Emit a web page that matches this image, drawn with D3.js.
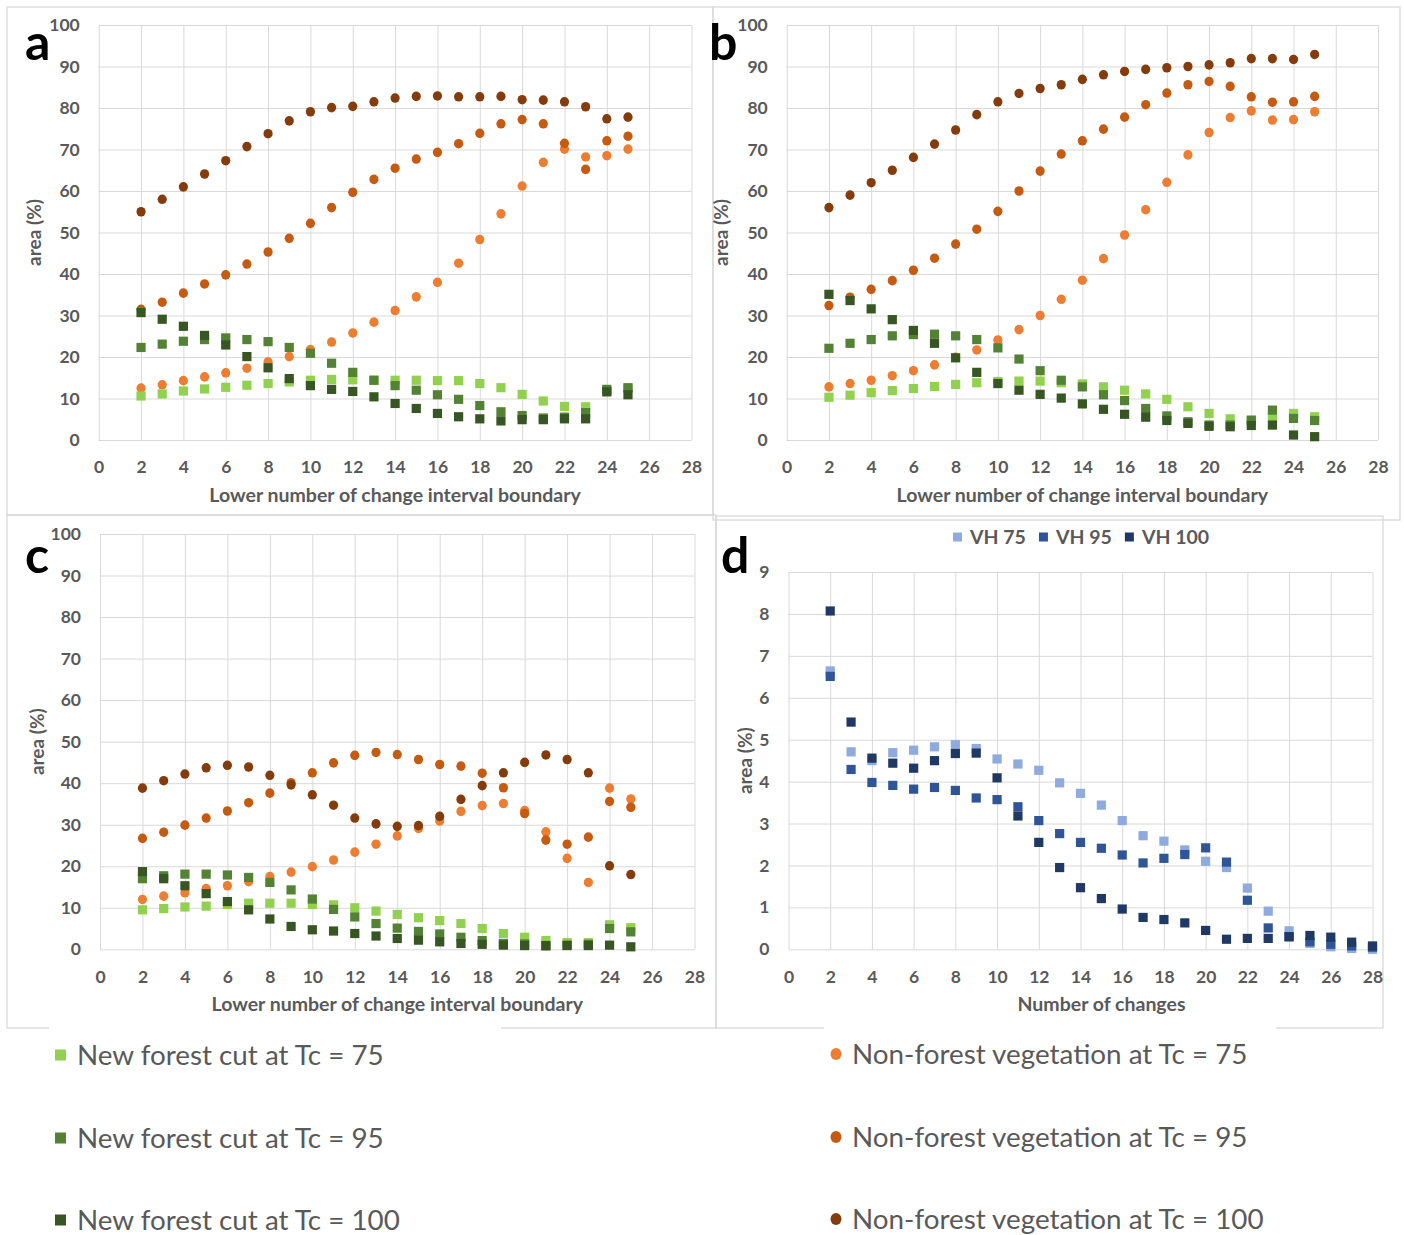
<!DOCTYPE html>
<html lang="en">
<head>
	<meta charset="utf-8">
	<title>Area of change classes by number of changes</title>
	<script src="https://cdn.jsdelivr.net/npm/d3@7"></script>
	<style>
		body { margin: 0; background: #fff; }
		svg { display: block; }
		.tick text { fill: #595959; font-family: Lato, "Open Sans", sans-serif; font-weight: 700; font-size: 17.5px; }
		.grid line { stroke: #d9d9d9; stroke-width: 1; }
	</style>
</head>
<body>
	<div id="chart"></div>
	<script>

		// x categories
		const boundaries = [2, 3, 4, 5, 6, 7, 8, 9, 10, 11, 12, 13, 14, 15, 16, 17, 18, 19, 20, 21, 22, 23, 24, 25];
		const changes = [2, 3, 4, 5, 6, 7, 8, 9, 10, 11, 12, 13, 14, 15, 16, 17, 18, 19, 20, 21, 22, 23, 24, 25, 26, 27, 28];

		// tick labels
		const xTicks = [0, 2, 4, 6, 8, 10, 12, 14, 16, 18, 20, 22, 24, 26, 28];
		const pctTicks = [0, 10, 20, 30, 40, 50, 60, 70, 80, 90, 100];
		const dTicks = [0, 1, 2, 3, 4, 5, 6, 7, 8, 9];

		// panel a
		const aCut75 = [10.6, 11.1, 11.8, 12.3, 12.7, 13.2, 13.6, 14.0, 14.4, 14.6, 14.5, 14.4, 14.4, 14.4, 14.3, 14.3, 13.6, 12.6, 11.0, 9.4, 8.1, 8.0, 11.8, 12.4];
		const aCut95 = [22.3, 23.1, 23.8, 24.2, 24.6, 24.2, 23.7, 22.3, 20.9, 18.5, 16.3, 14.4, 13.1, 12.0, 10.9, 9.8, 8.3, 6.8, 5.9, 5.3, 5.5, 6.6, 12.2, 12.6];
		const aCut100 = [30.7, 29.1, 27.4, 25.2, 22.9, 20.1, 17.4, 14.8, 13.1, 12.2, 11.7, 10.4, 8.8, 7.6, 6.4, 5.6, 5.1, 4.6, 4.9, 4.9, 5.1, 5.1, 11.6, 10.9];
		const aVeg75 = [12.5, 13.3, 14.3, 15.2, 16.2, 17.3, 18.8, 20.1, 21.8, 23.6, 25.8, 28.4, 31.2, 34.5, 38.0, 42.6, 48.3, 54.5, 61.2, 66.9, 70.1, 68.2, 68.5, 70.1];
		const aVeg95 = [31.5, 33.2, 35.4, 37.6, 39.8, 42.4, 45.3, 48.6, 52.2, 56.0, 59.7, 62.8, 65.5, 67.7, 69.3, 71.4, 73.9, 76.2, 77.2, 76.2, 71.5, 65.2, 72.1, 73.2];
		const aVeg100 = [55.0, 58.0, 61.0, 64.1, 67.3, 70.7, 73.8, 76.9, 79.1, 80.1, 80.4, 81.5, 82.4, 82.8, 82.9, 82.7, 82.7, 82.8, 82.0, 81.9, 81.5, 80.3, 77.4, 77.8];

		// panel b
		const bCut75 = [10.3, 10.8, 11.4, 11.9, 12.4, 12.9, 13.4, 13.8, 14.1, 14.2, 14.2, 13.8, 13.5, 12.8, 12.0, 11.1, 9.8, 8.0, 6.4, 5.1, 4.6, 5.5, 6.4, 5.6];
		const bCut95 = [22.1, 23.3, 24.2, 25.1, 25.4, 25.5, 25.1, 24.2, 22.2, 19.5, 16.7, 14.4, 12.8, 10.9, 9.5, 7.6, 5.8, 4.4, 3.6, 3.6, 4.8, 7.2, 5.2, 4.7];
		const bCut100 = [35.1, 33.6, 31.6, 29.0, 26.4, 23.3, 19.8, 16.3, 13.6, 12.0, 11.0, 10.1, 8.7, 7.4, 6.2, 5.5, 4.7, 4.0, 3.3, 3.2, 3.5, 3.6, 1.2, 0.8];
		const bVeg75 = [12.8, 13.6, 14.4, 15.5, 16.7, 18.1, 19.9, 21.7, 24.1, 26.6, 30.0, 33.9, 38.5, 43.7, 49.4, 55.5, 62.1, 68.7, 74.1, 77.7, 79.3, 77.1, 77.2, 79.1];
		const bVeg95 = [32.4, 34.4, 36.3, 38.4, 40.9, 43.8, 47.2, 50.8, 55.1, 60.0, 64.8, 68.9, 72.1, 74.9, 77.8, 80.8, 83.6, 85.6, 86.4, 85.2, 82.7, 81.4, 81.5, 82.8];
		const bVeg100 = [56.0, 59.0, 62.0, 65.0, 68.1, 71.3, 74.7, 78.4, 81.5, 83.5, 84.7, 85.6, 86.9, 88.0, 88.8, 89.3, 89.7, 90.0, 90.4, 90.9, 91.9, 91.9, 91.7, 92.9];

		// panel c
		const cCut75 = [9.5, 9.8, 10.2, 10.4, 10.8, 11.1, 11.1, 11.1, 10.8, 10.7, 10.0, 9.2, 8.4, 7.6, 6.9, 6.2, 5.0, 3.8, 2.9, 2.1, 1.6, 1.6, 5.9, 5.2];
		const cCut95 = [17.0, 17.7, 18.1, 18.1, 17.9, 17.3, 16.1, 14.3, 12.1, 9.6, 7.8, 6.2, 5.1, 4.3, 3.7, 2.9, 2.1, 1.4, 1.3, 0.8, 1.0, 1.2, 5.0, 4.2];
		const cCut100 = [18.7, 17.0, 15.3, 13.4, 11.5, 9.5, 7.3, 5.5, 4.7, 4.4, 3.8, 3.2, 2.6, 2.2, 1.8, 1.4, 1.2, 1.0, 0.9, 0.9, 0.9, 0.9, 1.0, 0.6];
		const cVeg75 = [12.0, 12.8, 13.6, 14.6, 15.3, 16.3, 17.5, 18.6, 19.9, 21.5, 23.4, 25.3, 27.3, 29.1, 30.9, 33.2, 34.6, 35.1, 33.4, 28.3, 21.9, 16.1, 38.8, 36.2];
		const cVeg95 = [26.7, 28.2, 29.9, 31.6, 33.3, 35.3, 37.6, 40.1, 42.5, 44.9, 46.7, 47.4, 46.9, 45.7, 44.5, 44.1, 42.4, 38.9, 32.7, 26.3, 25.3, 27.0, 35.6, 34.2];
		const cVeg100 = [38.8, 40.6, 42.2, 43.7, 44.3, 43.9, 41.9, 39.6, 37.2, 34.7, 31.6, 30.2, 29.6, 29.8, 32.0, 36.1, 39.4, 42.5, 45.0, 46.8, 45.7, 42.5, 20.1, 18.0];

		// panel d
		const vh75 = [6.64, 4.71, 4.50, 4.69, 4.75, 4.83, 4.88, 4.79, 4.54, 4.42, 4.27, 3.97, 3.72, 3.44, 3.07, 2.71, 2.58, 2.37, 2.10, 1.95, 1.46, 0.91, 0.44, 0.14, 0.06, 0.02, 0.0];
		const vh95 = [6.51, 4.29, 3.98, 3.91, 3.82, 3.86, 3.79, 3.61, 3.57, 3.40, 3.07, 2.76, 2.55, 2.41, 2.25, 2.06, 2.17, 2.26, 2.42, 2.08, 1.17, 0.51, 0.30, 0.18, 0.12, 0.08, 0.05];
		const vh100 = [8.07, 5.42, 4.56, 4.44, 4.32, 4.50, 4.67, 4.68, 4.09, 3.18, 2.55, 1.95, 1.47, 1.21, 0.96, 0.76, 0.71, 0.63, 0.45, 0.24, 0.26, 0.26, 0.30, 0.33, 0.29, 0.17, 0.08];

		const cutNames = ["New forest cut at Tc = 75", "New forest cut at Tc = 95", "New forest cut at Tc = 100"];
		const vegNames = ["Non-forest vegetation at Tc = 75", "Non-forest vegetation at Tc = 95", "Non-forest vegetation at Tc = 100"];
		const vhNames = ["VH 75", "VH 95", "VH 100"];

		const cutColors = ["#92d050", "#548235", "#375623"];
		const vegColors = ["#ed7d31", "#c55a11", "#843c0c"];
		const vhColors = ["#8faadc", "#2f5597", "#1f3864"];

		const fontFamily = 'Lato, "Open Sans", sans-serif';
		const textGrey = "#595959";
		const frameGrey = "#d9d9d9";

		const svg = d3.select("#chart").append("svg")
			.attr("width", 1404)
			.attr("height", 1235);

		svg.append("rect").attr("width", 1404).attr("height", 1235).attr("fill", "#fff");

		// panel frames
		const frames = [[7, 7, 713, 515], [713, 7, 1400, 520], [7, 515, 716, 1028], [716, 516, 1383, 1028]];
		svg.selectAll("rect.frame").data(frames).join("rect")
			.attr("class", "frame")
			.attr("x", d => d[0]).attr("y", d => d[1])
			.attr("width", d => d[2] - d[0]).attr("height", d => d[3] - d[1])
			.attr("fill", "none").attr("stroke", frameGrey).attr("stroke-width", 1.3);

		// draw one scatter panel
		function panel(opt) {
			const x = d3.scaleLinear().domain([0, 28]).range([opt.left, opt.right]);
			const y = d3.scaleLinear().domain(opt.yDomain).range([opt.bottom, opt.top]);
			const w = opt.right - opt.left, h = opt.bottom - opt.top;
			const g = svg.append("g");

			// gridlines + tick labels
			g.append("g")
				.attr("class", "grid")
				.attr("transform", "translate(" + opt.left + ",0)")
				.call(d3.axisLeft(y).tickValues(opt.yTicks).tickSize(-w).tickPadding(19).tickFormat(d3.format("d")))
				.call(s => s.select(".domain").remove());
			g.append("g")
				.attr("class", "grid")
				.attr("transform", "translate(0," + opt.bottom + ")")
				.call(d3.axisBottom(x).tickValues(xTicks).tickSize(-h).tickPadding(21).tickFormat(d3.format("d")))
				.call(s => s.select(".domain").remove());

			// series
			opt.series.forEach(s => {
				const pts = s.values.map((v, i) => ({x: s.xs[i], y: v}));
				if (s.shape === "circle") {
					g.append("g").selectAll("ellipse").data(pts).join("ellipse")
						.attr("cx", d => x(d.x)).attr("cy", d => y(d.y))
						.attr("rx", 4.6).attr("ry", 4.8)
						.attr("fill", s.color);
				} else {
					g.append("g").selectAll("rect").data(pts).join("rect")
						.attr("x", d => x(d.x) - 4.6).attr("y", d => y(d.y) - 4.6)
						.attr("width", 9.2).attr("height", 9.2)
						.attr("fill", s.color);
				}
			});

			// axis titles
			g.append("text")
				.attr("x", (opt.left + opt.right) / 2 + opt.xTitleShift)
				.attr("y", opt.bottom + 62)
				.attr("text-anchor", "middle")
				.attr("fill", textGrey)
				.style("font-family", fontFamily).style("font-weight", 700).style("font-size", "19.5px")
				.text(opt.xTitle);
			g.append("text")
				.attr("transform", "translate(" + opt.yTitleX + "," + (opt.top + opt.bottom) / 2 + ") rotate(-90)")
				.attr("text-anchor", "middle")
				.attr("dominant-baseline", "central")
				.attr("fill", textGrey)
				.style("font-family", fontFamily).style("font-weight", 700).style("font-size", "19px")
				.text("area (%)");

			// panel letter
			g.append("text")
				.attr("x", opt.letterX).attr("y", opt.letterY)
				.attr("fill", "#000")
				.style("font-family", fontFamily).style("font-weight", 700).style("font-size", "50px")
				.text(opt.letter);
		}

		function forestSeries(cut, veg) {
			const out = [];
			veg.forEach((v, i) => out.push({values: v, xs: boundaries, color: vegColors[i], shape: "circle"}));
			cut.forEach((v, i) => out.push({values: v, xs: boundaries, color: cutColors[i], shape: "square"}));
			return out;
		}

		const xTitleBoundary = "Lower number of change interval boundary";

		panel({left: 98.7, right: 691.5, top: 25, bottom: 440, yDomain: [0, 100], yTicks: pctTicks,
			series: forestSeries([aCut75, aCut95, aCut100], [aVeg75, aVeg95, aVeg100]),
			xTitle: xTitleBoundary, xTitleShift: 0, yTitleX: 33, letter: "a", letterX: 25, letterY: 60});
		panel({left: 786.7, right: 1378, top: 25, bottom: 440, yDomain: [0, 100], yTicks: pctTicks,
			series: forestSeries([bCut75, bCut95, bCut100], [bVeg75, bVeg95, bVeg100]),
			xTitle: xTitleBoundary, xTitleShift: 0, yTitleX: 720, letter: "b", letterX: 709, letterY: 60});
		panel({left: 100, right: 694.5, top: 534, bottom: 949.3, yDomain: [0, 100], yTicks: pctTicks,
			series: forestSeries([cCut75, cCut95, cCut100], [cVeg75, cVeg95, cVeg100]),
			xTitle: xTitleBoundary, xTitleShift: 0, yTitleX: 36, letter: "c", letterX: 25, letterY: 573});
		panel({left: 788.5, right: 1372.5, top: 572, bottom: 949.3, yDomain: [0, 9], yTicks: dTicks,
			series: [vh75, vh95, vh100].map((v, i) => ({values: v, xs: changes, color: vhColors[i], shape: "square"})),
			xTitle: "Number of changes", xTitleShift: 21, yTitleX: 744, letter: "d", letterX: 721, letterY: 573});

		// legend of panel d
		const vhLegend = svg.append("g").attr("transform", "translate(953,537)");
		let lx = 0;
		vhNames.forEach((name, i) => {
			const item = vhLegend.append("g").attr("transform", "translate(" + lx + ",0)");
			item.append("rect").attr("x", 0).attr("y", -4.5).attr("width", 9).attr("height", 9).attr("fill", vhColors[i]);
			const t = item.append("text").attr("x", 17).attr("y", 7)
				.attr("fill", textGrey)
				.style("font-family", fontFamily).style("font-weight", 700).style("font-size", "19.5px")
				.text(name);
			lx += 17 + t.node().getComputedTextLength() + 13;
		});

		// bottom legend boxes cover the frame lines
		svg.append("rect").attr("x", 49).attr("y", 1020).attr("width", 452).attr("height", 215).attr("fill", "#fff");
		svg.append("rect").attr("x", 824).attr("y", 1020).attr("width", 452).attr("height", 215).attr("fill", "#fff");

		const rowY = [1055, 1138, 1220];
		const leftLegend = svg.append("g");
		cutNames.forEach((name, i) => {
			leftLegend.append("rect").attr("x", 55).attr("y", rowY[i] - 5.5).attr("width", 11).attr("height", 11).attr("fill", cutColors[i]);
			leftLegend.append("text").attr("x", 77).attr("y", rowY[i] + 9.5)
				.attr("fill", textGrey)
				.style("font-family", fontFamily).style("font-size", "27.8px")
				.text(name);
		});
		const rightLegend = svg.append("g");
		vegNames.forEach((name, i) => {
			rightLegend.append("ellipse").attr("cx", 836).attr("cy", rowY[i] - 1).attr("rx", 5.5).attr("ry", 6).attr("fill", vegColors[i]);
			rightLegend.append("text").attr("x", 852).attr("y", rowY[i] + 8.5)
				.attr("fill", textGrey)
				.style("font-family", fontFamily).style("font-size", "27.8px")
				.text(name);
		});
	</script>
</body>
</html>
